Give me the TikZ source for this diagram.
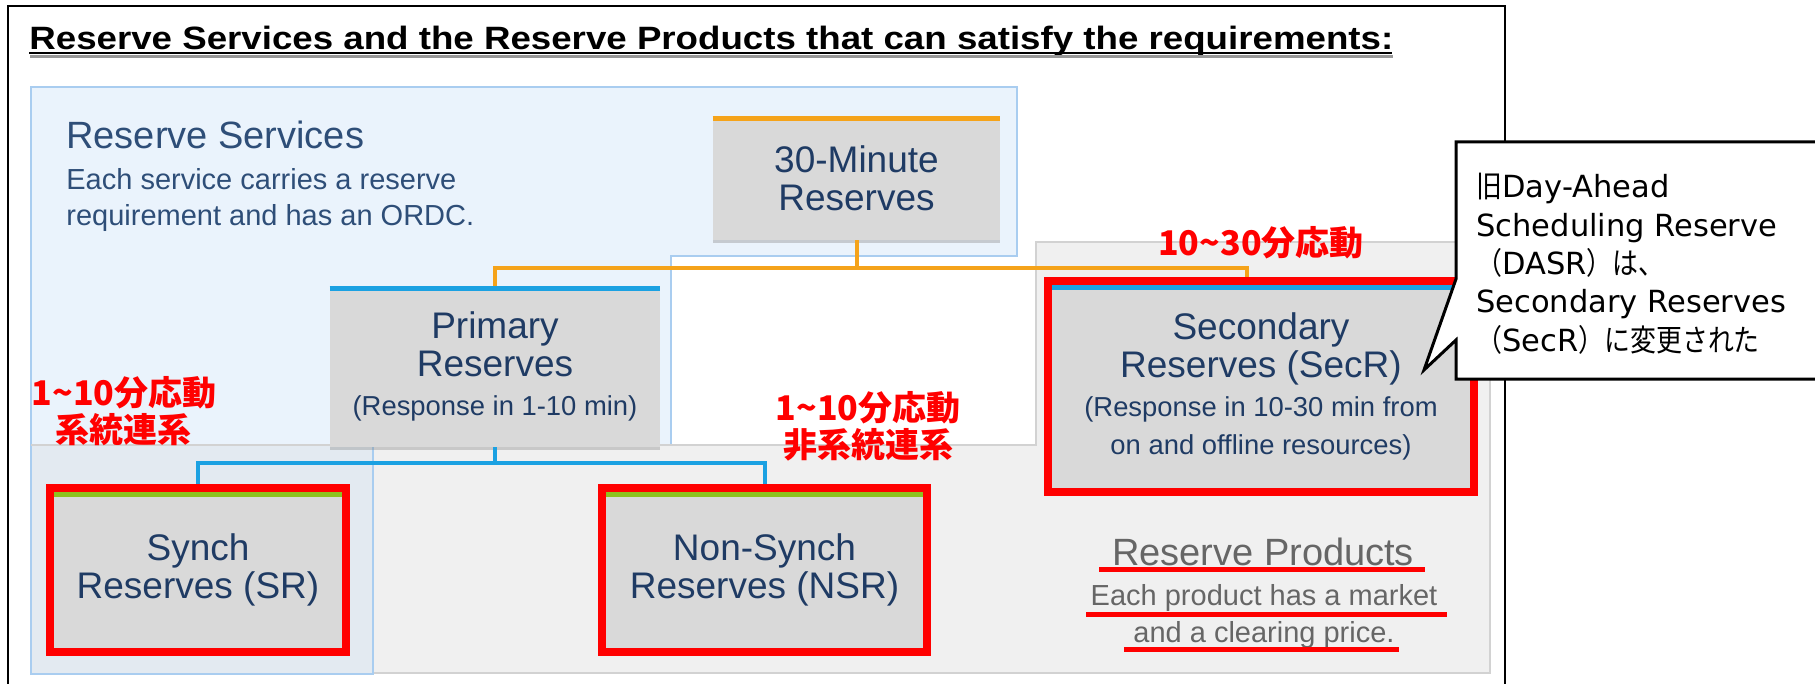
\documentclass[tikz,border=0pt]{standalone}
\usepackage{graphicx}
\usepackage{fontspec}
\setmainfont{Liberation Sans}
\newfontfamily\jpfont{Noto Sans CJK JP}
\newfontfamily\jpnarrow[FakeStretch=0.85]{Noto Sans CJK JP}
\newfontfamily\notefont{DejaVu Sans}
\usetikzlibrary{calc}
\usetikzlibrary{fit}
\usetikzlibrary{shadows}

\definecolor{svcblue}{HTML}{EAF3FC}
\definecolor{svcline}{HTML}{A9CDF0}
\definecolor{prodgray}{HTML}{F0F0F0}
\definecolor{prodline}{HTML}{D2D2D2}
\definecolor{mixfill}{HTML}{E3EAF1}
\definecolor{boxgray}{HTML}{D9D9D9}
\definecolor{navy}{HTML}{1F3B64}
\definecolor{barorange}{HTML}{F5A31A}
\definecolor{barblue}{HTML}{1BA1E2}
\definecolor{bargreen}{HTML}{8DC21F}
\definecolor{panelblue}{HTML}{2E4E78}
\definecolor{prodtext}{HTML}{666666}

\newcommand{\smallresp}[1]{{\fontsize{13.7}{19}\selectfont #1}}

\begin{document}
\begin{tikzpicture}[x=0.5pt, y=-0.5pt,
    resbox/.style={fill=boxgray, text=navy, align=center, inner sep=0pt,
        font=\fontsize{18.5}{19}\selectfont,
        drop shadow={shadow xshift=0pt, shadow yshift=-1.5pt, opacity=0.35}},
    redframe/.style={draw=red, line width=4pt, inner sep=2pt},
    redlbl/.style={text=red, align=center, inner sep=0pt,
        font=\jpfont\bfseries\fontsize{17}{18.5}\selectfont},
    redline/.style={red, line width=2.5pt},
    bar/.style={line width=2.5pt},
    link/.style={line width=2pt}]
    \useasboundingbox (0,0) rectangle (1815,684);
    \clip (0,0) rectangle (1815,684);
    \fill[white] (0,0) rectangle (1815,684);

    \filldraw[fill=svcblue, draw=svcline, line width=1pt] (31,87) -- (1017,87) -- (1017,256) -- (671,256)
        -- (671,445) -- (373,445) -- (373,674) -- (31,674) -- cycle;
    \filldraw[fill=prodgray, draw=prodline, line width=1pt] (1036,242) -- (1490,242) -- (1490,673)
        -- (31,673) -- (31,445) -- (1036,445) -- cycle;
    \filldraw[fill=mixfill, draw=svcline, line width=1pt] (31,445) rectangle (373,674);
    \draw[prodline, line width=1pt] (31,445) -- (373,445);

    \draw[line width=1pt] (8,6) rectangle (1505,720);

    \node[anchor=base west, inner sep=0pt] (title) at (29,50)
        {\resizebox{682pt}{11.7pt}{\bfseries Reserve Services and the Reserve Products that can satisfy the requirements:}};
    \draw[black!40, line width=1.5pt] (30,57) -- (1393,57);
    \draw[black, line width=1.25pt] (29,53) -- (1392,53);

    \node[anchor=west, text=panelblue, inner sep=0pt, font=\fontsize{19}{20}\selectfont] (svcTitle) at (66,135) {Reserve Services};
    \node[anchor=west, text=panelblue, align=left, inner sep=0pt, font=\fontsize{14.5}{18}\selectfont] (svcNote) at (66,200)
        {Each service carries a reserve\\requirement and has an ORDC.};

    \node[resbox, minimum width=143.5pt, minimum height=62pt] (thirty) at (856.5,178) {30-Minute\\Reserves};
    \node[resbox, minimum width=165pt, minimum height=80.5pt] (prim) at (495,366.5)
        {Primary\\Reserves\\[0.5pt]\smallresp{(Response in 1-10 min)}};
    \node[resbox, minimum width=209pt, minimum height=101.5pt] (secr) at (1261,386.5)
        {Secondary\\Reserves (SecR)\\[0.5pt]\smallresp{(Response in 10-30 min from}\\\smallresp{on and offline resources)}};
    \node[resbox, minimum width=144pt, minimum height=78pt] (synch) at (198,570) {Synch\\Reserves (SR)};
    \node[resbox, minimum width=158.5pt, minimum height=78pt] (nsynch) at (764.5,570) {Non-Synch\\Reserves (NSR)};

    \draw[barorange, link] (thirty.south) -- ++(0,28) coordinate (ojoin) -| (prim.north);
    \draw[barorange, link] (ojoin) -| ([xshift=-7pt]secr.north);
    \draw[barblue, link] (prim.south) -- ++(0,16) coordinate (bjoin) -| (synch.north);
    \draw[barblue, link] (bjoin) -| (nsynch.north);

    \draw[barorange, bar] ([yshift=-1.25pt]thirty.north west) -- ([yshift=-1.25pt]thirty.north east);
    \draw[barblue, bar] ([yshift=-1.25pt]prim.north west) -- ([yshift=-1.25pt]prim.north east);
    \draw[barblue, bar] ([yshift=-1.25pt]secr.north west) -- ([yshift=-1.25pt]secr.north east);
    \draw[bargreen, bar] ([yshift=-1.25pt]synch.north west) -- ([yshift=-1.25pt]synch.north east);
    \draw[bargreen, bar] ([yshift=-1.25pt]nsynch.north west) -- ([yshift=-1.25pt]nsynch.north east);

    \node[redframe, fit=(secr)] (secrFrame) {};
    \node[redframe, fit=(synch)] (synchFrame) {};
    \node[redframe, fit=(nsynch)] (nsynchFrame) {};

    \node[redlbl] (synchLbl) at (124,411) {1\textasciitilde 10分応動\\系統連系};
    \node[redlbl] (nsynchLbl) at (868,426) {1\textasciitilde 10分応動\\非系統連系};
    \node[redlbl] (secrLbl) at (1261,243) {10\textasciitilde 30分応動};

    \node[text=prodtext, inner sep=0pt, font=\fontsize{19}{20}\selectfont] (prodTitle) at (1263,552) {Reserve Products};
    \node[text=prodtext, align=center, inner sep=0pt, font=\fontsize{14.5}{18.5}\selectfont] (prodNote) at (1264,616)
        {Each product has a market\\and a clearing price.};
    \draw[redline] (1099,569) -- (1425,569);
    \draw[redline] (1086,614) -- (1447,614);
    \draw[redline] (1124,649) -- (1399,649);

    \coordinate (tip) at (1424,370);
    \filldraw[fill=white, draw=black, line width=1.5pt] (1456,142) -- (1900,142) -- (1900,379) -- (1456,379)
        -- (1456,340) -- (tip) -- (1456,279) -- cycle;
    \node[anchor=north west, align=left, inner sep=0pt, font=\notefont\fontsize{15.25}{19.15}\selectfont] (noteText) at (1476,173)
        {{\jpnarrow 旧}Day-Ahead\\Scheduling Reserve\\{\jpnarrow （}DASR{\jpnarrow ）は、}\\Secondary Reserves\\{\jpnarrow （}SecR{\jpnarrow ）に変更された}};
\end{tikzpicture}
\end{document}
